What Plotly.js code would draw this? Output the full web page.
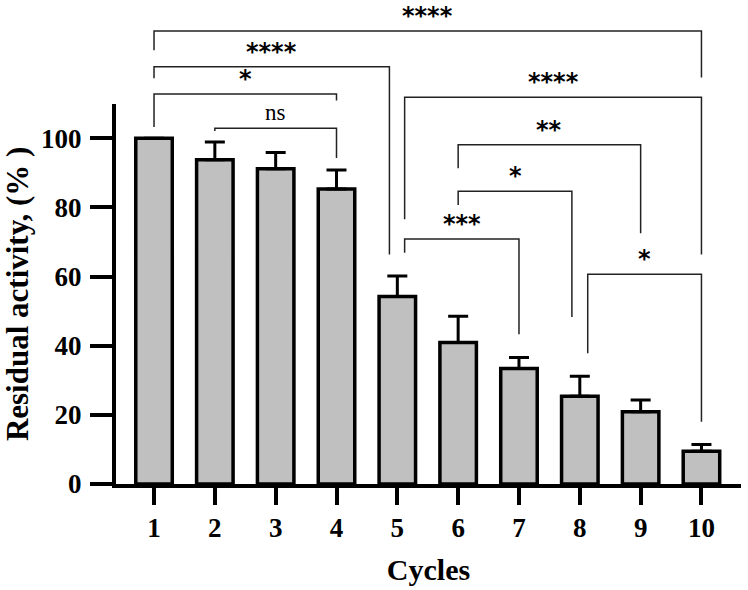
<!DOCTYPE html>
<html>
<head>
<meta charset="utf-8">
<script src="https://cdn.plot.ly/plotly-3.0.1.min.js"></script>
<style>
  html, body { margin: 0; padding: 0; background: #ffffff; }
  #chart { width: 748px; height: 590px; }
</style>
</head>
<body>
<div id="chart"></div>
<script>
// Residual activity after repeated reuse cycles (mean with upper SD)
const cycles = [1, 2, 3, 4, 5, 6, 7, 8, 9, 10];
const cycleLabels = ['1', '2', '3', '4', '5', '6', '7', '8', '9', '10'];
const activity = [100, 93.8, 91.2, 85.3, 54.2, 40.9, 33.4, 25.4, 20.9, 9.5];
const activitySD = [0, 5.1, 4.7, 5.5, 6.0, 7.6, 3.2, 5.8, 3.4, 1.9];
const yTicks = [0, 20, 40, 60, 80, 100];

// Pairwise comparisons between cycles and their significance
const compareFrom = [1, 1, 1, 2, 5, 6, 6, 5, 8];
const compareTo = [10, 5, 4, 4, 10, 9, 8, 7, 10];
const compareSig = ['****', '****', '*', 'ns', '****', '**', '*', '***', '*'];

// Bracket drawing: level of the bar, where each leg stops, and small
// horizontal nudges so brackets meeting on one bar do not overlap
const bracketLevel = [131.0, 120.7, 112.8, 102.9, 111.9, 98.1, 84.7, 70.9, 60.7];
const legFromEnd = [125.5, 117.4, 103.3, 102.1, 76.6, 91.3, 80.7, 66.9, 37.8];
const legToEnd = [117.6, 66.4, 110.9, 94.3, 66.4, 72.5, 48.3, 43.3, 18.0];
const nudgeFrom = [0, 0, 0, 0, 0.12, 0, 0, 0.12, 0.13];
const nudgeTo = [0, -0.13, 0, 0, 0, 0, -0.13, 0, 0];

const Y_MAX = 110;      // top of the drawn value axis
const Y_OUTER = 140;    // headroom used by the significance brackets
const SERIF = 'Liberation Serif, Times New Roman, serif';
const STAR_FONT = 'DejaVu Sans, sans-serif';

const barTrace = {
  type: 'bar',
  x: cycles,
  y: activity,
  width: 0.6,
  marker: { color: '#c0c0c0', line: { color: '#000000', width: 3.5 } },
  error_y: {
    type: 'data',
    symmetric: false,
    array: activitySD,
    arrayminus: activitySD.map(() => 0),
    color: '#000000',
    thickness: 3,
    width: 10
  },
  xaxis: 'x',
  yaxis: 'y',
  hoverinfo: 'x+y',
  showlegend: false
};

// Brackets as one polyline with gaps between comparisons
const bx = [], by = [];
compareFrom.forEach((a, i) => {
  const x0 = a + nudgeFrom[i];
  const x1 = compareTo[i] + nudgeTo[i];
  bx.push(x0, x0, x1, x1, null);
  by.push(legFromEnd[i], bracketLevel[i], bracketLevel[i], legToEnd[i], null);
});
const bracketTrace = {
  type: 'scatter',
  mode: 'lines',
  x: bx,
  y: by,
  line: { color: '#222222', width: 1.5 },
  xaxis: 'x',
  yaxis: 'y2',
  hoverinfo: 'skip',
  showlegend: false
};

const annotations = compareSig.map((s, i) => {
  const x0 = compareFrom[i] + nudgeFrom[i];
  const x1 = compareTo[i] + nudgeTo[i];
  const isNs = s === 'ns';
  return {
    x: (x0 + x1) / 2,
    y: bracketLevel[i],
    xref: 'x',
    yref: 'y2',
    text: s,
    showarrow: false,
    xanchor: 'center',
    yanchor: 'bottom',
    yshift: isNs ? 1 : -1,
    font: isNs
      ? { family: SERIF, size: 23, color: '#000000', weight: 'normal' }
      : { family: STAR_FONT, size: 24, color: '#000000', weight: 'bold' }
  };
});

const layout = {
  width: 748,
  height: 590,
  margin: { l: 116, r: 7, t: 0, b: 106, pad: 0 },
  paper_bgcolor: '#ffffff',
  plot_bgcolor: 'rgba(0,0,0,0)',
  showlegend: false,
  xaxis: {
    range: [0.375, 10.65],
    tickvals: cycles,
    ticktext: cycleLabels,
    ticks: 'outside',
    ticklen: 17,
    tickwidth: 4,
    tickcolor: '#000000',
    showline: true,
    linewidth: 4,
    linecolor: '#000000',
    showgrid: false,
    zeroline: false,
    anchor: 'y',
    ticklabelstandoff: 0,
    tickfont: { family: SERIF, size: 27, color: '#000000', weight: 'bold' },
    title: { text: 'Cycles', standoff: 18, font: { family: SERIF, size: 30, color: '#000000', weight: 'bold' } },
    fixedrange: true
  },
  yaxis: {
    domain: [0, Y_MAX / Y_OUTER],
    range: [0, Y_MAX],
    tickvals: yTicks,
    ticks: 'outside',
    ticklen: 22,
    tickwidth: 4,
    tickcolor: '#000000',
    showline: true,
    linewidth: 4,
    linecolor: '#000000',
    showgrid: false,
    zeroline: false,
    anchor: 'x',
    ticklabelstandoff: 3,
    tickfont: { family: SERIF, size: 27, color: '#000000', weight: 'bold' },
    title: { text: 'Residual activity, (% )', standoff: 8, font: { family: SERIF, size: 31, color: '#000000', weight: 'bold' } },
    fixedrange: true
  },
  yaxis2: {
    domain: [0, 1],
    range: [0, Y_OUTER],
    anchor: 'x',
    visible: false,
    fixedrange: true
  },
  annotations: annotations
};

Plotly.newPlot('chart', [barTrace, bracketTrace], layout, { staticPlot: true, displayModeBar: false });
</script>
</body>
</html>
